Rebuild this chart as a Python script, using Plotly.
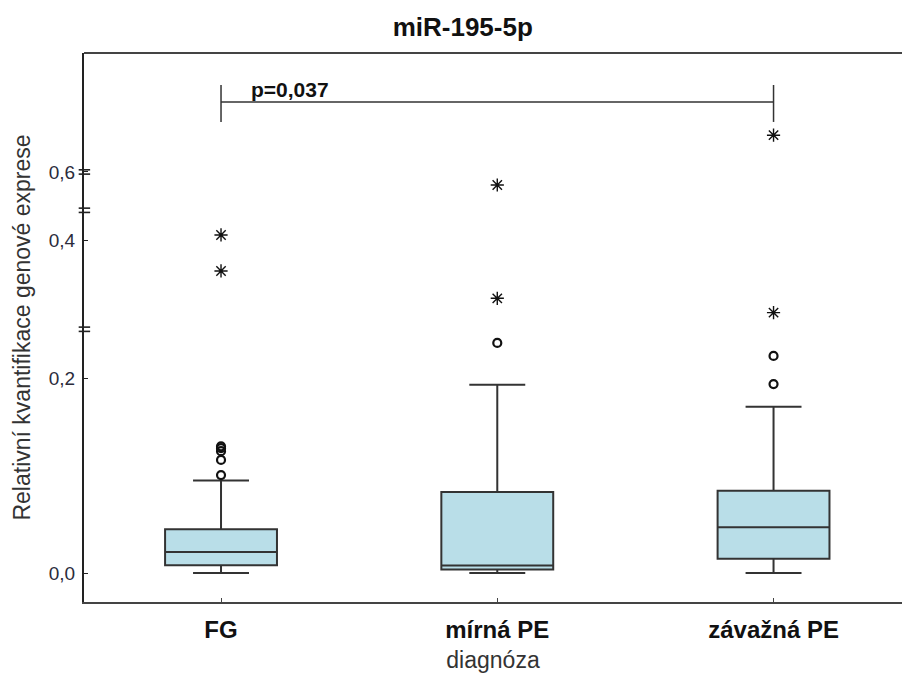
import plotly.graph_objects as go

# ---- data (original value units) ----
categories = ["FG", "mírná PE", "závažná PE"]
lower_whisker = [0.0, 0.0, 0.0]
q1_vals = [0.008, 0.0036, 0.0147]
median_vals = [0.0215, 0.0077, 0.0469]
q3_vals = [0.045, 0.083, 0.0844]
upper_whisker = [0.095, 0.193, 0.1706]

# mild outliers (circles) and extreme outliers (stars) per group
circle_outliers = [
    [0.1005, 0.116, 0.125, 0.128, 0.130],
    [0.236],
    [0.1938, 0.2226],
]
star_outliers = [
    [0.348, 0.4085],
    [0.302, 0.583],
    [0.278, 0.648],
]

y_ticks = [0.0, 0.2, 0.4, 0.6]
y_ticktext = ["0,0", "0,2", "0,4", "0,6"]
p_text = "p=0,037"

# ---- broken-axis scale (piecewise linear) ----
SEG1_END = 0.25
SEG2_START, SEG2_END, K2 = 0.25, 0.45, 0.61
SEG3_START, K3 = 0.55, 0.786
D2_END = SEG1_END + (SEG2_END - SEG2_START) * K2


def f(v):
    if v <= SEG1_END:
        return v
    if v <= SEG2_END:
        return SEG1_END + (v - SEG2_START) * K2
    return D2_END + (v - SEG3_START) * K3


def fl(vals):
    return [f(v) for v in vals]


box_fill = "#b9dee8"
line_col = "#333333"

fig = go.Figure()

for i, cat in enumerate(categories):
    fig.add_trace(go.Box(
        x=[i],
        q1=[f(q1_vals[i])], median=[f(median_vals[i])], q3=[f(q3_vals[i])],
        lowerfence=[f(lower_whisker[i])], upperfence=[f(upper_whisker[i])],
        width=0.405, whiskerwidth=0.5,
        fillcolor=box_fill, line=dict(color=line_col, width=2),
        boxpoints=False, showlegend=False, hoverinfo="skip",
    ))
    fig.add_trace(go.Scatter(
        x=[i] * len(circle_outliers[i]), y=fl(circle_outliers[i]),
        mode="markers",
        marker=dict(symbol="circle-open", size=8, color="#111",
                    line=dict(width=2.2, color="#111")),
        showlegend=False, hoverinfo="skip",
    ))
    fig.add_trace(go.Scatter(
        x=[i] * len(star_outliers[i]), y=fl(star_outliers[i]),
        mode="markers",
        marker=dict(symbol="asterisk-open", size=11, color="#111",
                    line=dict(width=1.4, color="#111")),
        showlegend=False, hoverinfo="skip",
    ))

# significance bracket
br_y, br_lo, br_hi = 0.483, 0.4626, 0.5005
shapes = [
    dict(type="line", xref="x", yref="y", x0=0, x1=2, y0=br_y, y1=br_y,
         line=dict(color=line_col, width=1.5)),
    dict(type="line", xref="x", yref="y", x0=0, x1=0, y0=br_lo, y1=br_hi,
         line=dict(color=line_col, width=1.5)),
    dict(type="line", xref="x", yref="y", x0=2, x1=2, y0=br_lo, y1=br_hi,
         line=dict(color=line_col, width=1.5)),
    # top frame line
    dict(type="line", xref="paper", yref="paper", x0=0, x1=1, y0=1, y1=1,
         line=dict(color="#444", width=2)),
]

# axis break marks
for bv in [f(0.6), D2_END, SEG1_END]:
    for dy in (-0.0022, 0.0022):
        shapes.append(dict(type="line", xref="paper", yref="y",
                           x0=-0.0065, x1=0.0075, y0=bv + dy, y1=bv + dy,
                           line=dict(color="#222", width=1.6)))

fig.update_layout(
    width=902, height=677,
    margin=dict(l=84, r=0, t=53, b=75),
    paper_bgcolor="white", plot_bgcolor="white",
    font=dict(family="Liberation Sans, Arial, sans-serif", color="#222"),
    title=dict(text="<b>miR-195-5p</b>", x=0.513, xref="container", xanchor="center",
               y=1 - 27 / 677, yref="container", yanchor="middle",
               font=dict(size=26, color="#111")),
    shapes=shapes,
    annotations=[dict(x=0.1, y=0.4954, xref="x", yref="y", text="<b>" + p_text + "</b>",
                      showarrow=False, xanchor="left", yanchor="middle",
                      font=dict(size=21, color="#111"))],
)

fig.update_xaxes(
    range=[-0.496, 2.465], tickvals=[0, 1, 2],
    ticktext=["<b>" + c + "</b>" for c in categories],
    tickfont=dict(size=24, color="#111"),
    showline=True, linecolor="#444", linewidth=2, mirror=False,
    ticks="inside", ticklen=4, tickcolor="#444",
    ticklabelstandoff=5,
    showgrid=False, zeroline=False,
    title=dict(text="diagnóza", font=dict(size=23, color="#333"), standoff=10),
)

fig.update_yaxes(
    range=[-0.0297, 0.5333], tickvals=fl(y_ticks), ticktext=y_ticktext,
    tickfont=dict(size=19, color="#2b2b3b"),
    showline=True, linecolor="#222", linewidth=2,
    ticks="inside", ticklen=4, tickcolor="#222",
    ticklabelstandoff=3,
    showgrid=False, zeroline=False,
    title=dict(text="Relativní kvantifikace genové exprese",
               font=dict(size=23, color="#333"), standoff=12),
)

fig.write_html("out.html")
